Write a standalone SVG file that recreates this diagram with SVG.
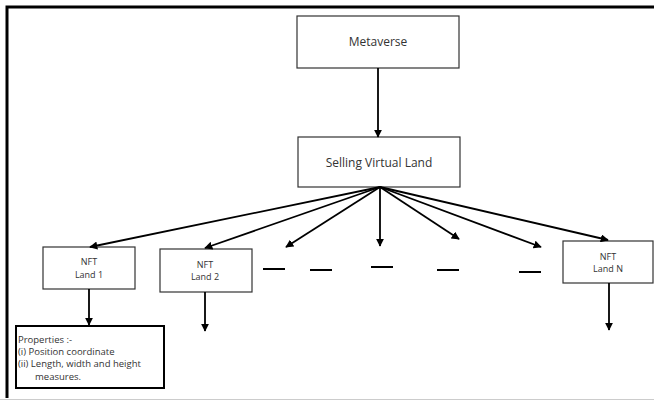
<svg xmlns="http://www.w3.org/2000/svg" width="654" height="401" viewBox="0 0 654 401">
<style>
.box{fill:#fff;stroke:#333;stroke-width:1.2}
.pbox{fill:#fff;stroke:#000;stroke-width:2}
.t{font-family:"Open Sans","Noto Sans",sans-serif;fill:#333;text-anchor:middle}
.tl{font-family:"Open Sans","Noto Sans",sans-serif;fill:#333;font-size:9.5px}
.c{stroke:#000;stroke-width:1.8;fill:none;marker-end:url(#ah)}
.d{stroke:#000;stroke-width:2}
</style>
<defs>
<marker id="ah" viewBox="0 0 10 10" refX="9" refY="5" markerWidth="4.5" markerHeight="4.5" orient="auto" markerUnits="strokeWidth">
<path d="M0,0 L10,5 L0,10 z" fill="#000"/>
</marker>
</defs>
<rect width="654" height="401" fill="#fff"/>
<g id="frame">
<path d="M7,398 V7 H654" fill="none" stroke="#000" stroke-width="3"/>
<line x1="0" y1="399.5" x2="654" y2="399.5" stroke="#ccc" stroke-width="1"/>
</g>
<g id="metaverse">
<rect class="box" x="297" y="16" width="162" height="52"/>
<text class="t" x="378" y="46" font-size="12">Metaverse</text>
</g>
<g id="selling">
<rect class="box" x="298" y="137" width="162" height="50"/>
<text class="t" x="379" y="167" font-size="12">Selling Virtual Land</text>
</g>
<g id="land1">
<rect class="box" x="43" y="247" width="92" height="42"/>
<text class="t" x="89" y="265" font-size="9">NFT</text>
<text class="t" x="89" y="278" font-size="9">Land 1</text>
</g>
<g id="land2">
<rect class="box" x="160" y="249" width="92" height="43"/>
<text class="t" x="205" y="268" font-size="9">NFT</text>
<text class="t" x="205" y="280" font-size="9">Land 2</text>
</g>
<g id="landN">
<rect class="box" x="563" y="241" width="90" height="42"/>
<text class="t" x="608" y="260" font-size="9">NFT</text>
<text class="t" x="608" y="272" font-size="9">Land N</text>
</g>
<g id="properties">
<rect class="pbox" x="16" y="326" width="148" height="62"/>
<text class="tl" x="18" y="343">Properties :-</text>
<text class="tl" x="18" y="355">(i) Position coordinate</text>
<text class="tl" x="18" y="367">(ii) Length, width and height</text>
<text class="tl" x="35" y="380">measures.</text>
</g>
<g id="connectors">
<line class="c" x1="378" y1="68" x2="378" y2="137"/>
<line class="c" x1="380" y1="187" x2="90" y2="247"/>
<line class="c" x1="380" y1="187" x2="205" y2="248"/>
<line class="c" x1="380" y1="187" x2="286" y2="247"/>
<line class="c" x1="380" y1="187" x2="380" y2="246"/>
<line class="c" x1="380" y1="187" x2="459" y2="239"/>
<line class="c" x1="380" y1="187" x2="541" y2="247"/>
<line class="c" x1="380" y1="187" x2="608" y2="240"/>
<line class="c" x1="89" y1="289" x2="89" y2="325"/>
<line class="c" x1="205" y1="292" x2="205" y2="331"/>
<line class="c" x1="609" y1="283" x2="609" y2="330"/>
</g>
<g id="dashes">
<line class="d" x1="263" y1="269" x2="285" y2="269"/>
<line class="d" x1="310" y1="270" x2="332" y2="270"/>
<line class="d" x1="371" y1="267" x2="393" y2="267"/>
<line class="d" x1="437" y1="270" x2="459" y2="270"/>
<line class="d" x1="519" y1="272" x2="541" y2="272"/>
</g>
</svg>
